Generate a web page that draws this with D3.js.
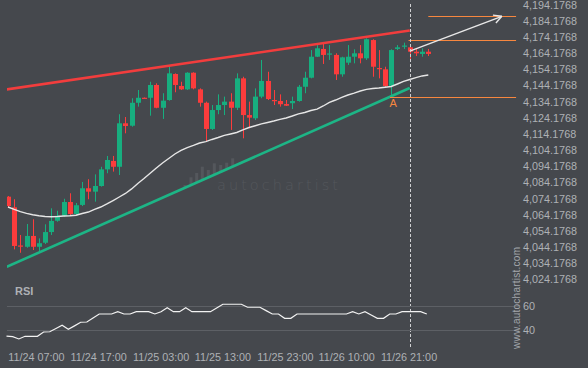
<!DOCTYPE html>
<html><head><meta charset="utf-8">
<script src="https://cdn.jsdelivr.net/npm/d3@7"></script>
<style>html,body{margin:0;padding:0;background:#45484d;overflow:hidden}</style>
</head><body><div id="chart"></div>
<script>
// ---- data ----
const candleOpen = [4075.4,4068.8,4045.2,4044.4,4051.1,4044.4,4046.9,4053.5,4060.5,4063.6,
4072.1,4064.7,4070.3,4080.6,4078.5,4082.0,4092.3,4097.5,4093.9,4120.8,
4119.3,4133.5,4136.6,4136.6,4144.5,4130.4,4135.2,4151.3,4143.9,4141.8,
4152.1,4141.8,4133.5,4117.3,4129.0,4132.1,4134.2,4130.4,4148.6,4125.9,
4123.9,4137.3,4147.0,4135.2,4134.6,4132.7,4133.2,4134.6,4143.4,4149.0,
4162.0,4166.8,4163.4,4163.1,4151.1,4158.3,4162.0,4164.1,4161.0,4172.3,
4155.0,4154.2,4143.9,4166.8,4168.3,4167.8,4165.1,4163.7,4165.1];
const candleHigh = [4075.8,4073.8,4051.7,4058.5,4061.4,4049.6,4058.3,4068.2,4066.7,4074.1,
4077.5,4071.5,4084.5,4086.2,4089.2,4093.9,4100.6,4100.6,4126.4,4124.7,
4136.3,4141.4,4136.8,4146.5,4145.5,4139.4,4155.8,4151.7,4146.5,4152.4,
4152.4,4142.4,4134.2,4132.1,4138.7,4137.3,4139.4,4151.7,4149.6,4134.2,
4142.4,4160.0,4152.7,4141.4,4138.7,4135.2,4137.3,4144.5,4152.7,4166.1,
4169.2,4169.9,4169.2,4164.1,4162.0,4169.2,4166.6,4169.2,4173.4,4172.8,
4166.1,4155.8,4166.6,4169.2,4170.7,4168.2,4167.4,4167.2,4166.8];
const candleLow = [4068.4,4042.8,4040.7,4043.8,4042.4,4041.4,4046.1,4051.7,4059.9,4063.0,
4064.1,4064.1,4069.6,4073.8,4072.3,4081.6,4089.9,4090.9,4088.8,4114.6,
4118.7,4131.1,4136.0,4125.5,4130.1,4123.5,4134.8,4140.0,4141.4,4141.4,
4141.8,4131.1,4109.8,4116.7,4126.4,4125.9,4116.7,4129.0,4111.5,4117.7,
4122.8,4136.3,4135.2,4132.1,4131.1,4131.5,4129.6,4134.2,4139.4,4148.6,
4161.8,4157.5,4160.0,4147.6,4149.6,4156.9,4157.9,4157.9,4160.0,4149.6,
4148.6,4143.1,4138.3,4166.1,4166.8,4158.9,4162.4,4162.0,4162.4];
const candleClose = [4069.6,4044.9,4044.6,4051.1,4044.4,4046.6,4053.5,4060.4,4063.6,4072.1,
4064.7,4070.1,4080.6,4078.5,4082.0,4092.3,4098.1,4093.9,4120.8,4119.1,
4133.5,4136.6,4136.1,4144.5,4130.4,4134.8,4151.7,4144.5,4141.8,4152.1,
4142.4,4133.5,4117.3,4129.0,4132.1,4134.2,4130.4,4148.6,4125.9,4124.3,
4137.3,4147.0,4135.8,4134.8,4132.6,4131.7,4134.6,4143.4,4149.0,4162.0,
4167.2,4163.1,4164.0,4151.1,4161.6,4162.0,4164.1,4161.0,4172.8,4155.8,
4154.4,4143.9,4166.1,4167.8,4168.9,4165.1,4164.1,4165.1,4163.7];
const movingAvg = [4069.0,4067.5,4066.1,4065.1,4064.2,4063.6,4063.1,4063.0,4063.1,4063.4,
4063.6,4063.9,4065.0,4065.9,4067.5,4069.0,4070.9,4073.0,4075.2,4077.4,
4080.2,4083.6,4086.6,4089.9,4093.1,4096.2,4099.0,4101.8,4104.0,4105.8,
4107.1,4108.6,4109.5,4110.8,4112.0,4113.3,4114.2,4115.1,4116.7,4118.2,
4119.3,4120.4,4121.3,4122.2,4123.2,4124.1,4125.3,4126.6,4127.5,4128.7,
4129.6,4131.5,4133.7,4135.2,4136.8,4138.3,4139.5,4140.8,4141.8,4142.3,
4142.6,4143.1,4143.6,4145.1,4146.7,4147.9,4149.1,4150.1,4150.7];
const rsiValues = [35.2,34.7,32.8,35.0,35.0,35.0,38.6,38.8,41.5,44.2,
40.8,43.7,46.7,46.9,50.3,53.6,53.6,53.6,55.5,53.6,
53.6,55.5,55.5,55.5,53.6,55.5,58.8,55.5,55.5,58.8,
55.5,55.5,55.5,55.5,58.6,61.7,61.7,61.7,61.7,59.2,
59.2,59.2,56.4,53.6,53.6,50.0,50.0,53.6,53.6,53.6,
53.6,53.6,53.6,53.6,53.6,53.6,55.5,53.6,55.5,52.8,
50.0,50.0,53.6,53.6,55.5,55.5,55.5,55.5,53.6];
const yTickValues = [4024.1768,4034.1768,4044.1768,4054.1768,4064.1768,4074.1768,4084.1768,4094.1768,
4104.1768,4114.1768,4124.1768,4134.1768,4144.1768,4154.1768,4164.1768,4174.1768,4184.1768,4194.1768];
const rsiTickValues = [40, 60];
const xTickIndex = [4.5, 14.6, 24.7, 34.7, 44.8, 54.7, 64.8];
const xTickLabels = ["11/24 07:00","11/24 17:00","11/25 03:00","11/25 13:00","11/25 23:00","11/26 10:00","11/26 21:00"];
const resistanceLine = [[-0.2, 4141.8], [65, 4178.2]];
const supportLine = [[-0.2, 4032.0], [65, 4142.6]];
const levelPrices = [4187.0, 4172.2, 4137.1];
const levelStartIndex = [68, 64.8, 61.8];
const levelEndIndex = 82.2;
const forecastArrow = [[65, 4165.5], [79.9, 4187.0]];
const patternPoint = {label: "A", index: 62.3, price: 4133.2};
const currentIndex = 65;

// ---- drawing ----
const W = 588, H = 368;
const BG = "#45484d", TXT = "#aeb1b5", UP = "#17ae7f", DOWN = "#fc3c3c";
const ORANGE = "#f7873f", FONT = "'Liberation Sans', Arial, sans-serif";
const svg = d3.select("#chart").append("svg").attr("width", W).attr("height", H)
  .style("font-family", FONT);
svg.append("rect").attr("width", W).attr("height", H).attr("fill", BG);

const x = d3.scaleLinear().domain([0, 68]).range([8, 428.3]);
const y = d3.scaleLinear().domain([4034.1768, 4194.1768]).range([263.3, 4.7]);
const yR = d3.scaleLinear().domain([40, 60]).range([330.3, 306.3]);

svg.append("defs").append("clipPath").attr("id", "clipMain")
  .append("rect").attr("x", 7).attr("y", 0).attr("width", 513).attr("height", 285);
const main = svg.append("g").attr("clip-path", "url(#clipMain)");

// watermark
const wm = main.append("g").attr("fill", "#54575c");
const wmBars = [[185,185],[191,177.3],[196.7,173],[202.3,166.7],[208.3,170],[214.3,163.3],[220.7,165],[226.7,162.7],[232.7,158.3]];
wmBars.forEach(([bx, top]) => {
  const bottom = 187.5 - 0.4447 * (bx - 185);
  wm.append("rect").attr("x", bx - 1.5).attr("y", top).attr("width", 3).attr("height", Math.max(1, bottom - top));
});
wm.append("text").attr("x", 217).attr("y", 190).attr("font-size", 14.5)
  .attr("textLength", 121).attr("lengthAdjust", "spacing")
  .attr("font-family", "'DejaVu Sans', sans-serif").attr("font-weight", 300)
  .text("autochartist");

// candles
const idx = d3.range(candleOpen.length);
const cg = main.append("g");
idx.forEach(i => {
  const o = candleOpen[i], c = candleClose[i], hi = candleHigh[i], lo = candleLow[i];
  const col = c >= o ? UP : DOWN;
  const cx = Math.round(x(i)) + 0.5;
  cg.append("line").attr("x1", cx).attr("x2", cx).attr("y1", y(hi)).attr("y2", y(lo))
    .attr("stroke", col).attr("stroke-width", 1);
  const top = y(Math.max(o, c)), bot = y(Math.min(o, c));
  cg.append("rect").attr("x", cx - 2.5).attr("y", top).attr("width", 5)
    .attr("height", Math.max(1.2, bot - top)).attr("fill", col);
});

// trend lines
const tl = d3.line().x(d => x(d[0])).y(d => y(d[1]));
main.append("path").attr("d", tl(resistanceLine)).attr("stroke", "#f23d3d").attr("stroke-width", 2.6).attr("fill", "none");
main.append("path").attr("d", tl(supportLine)).attr("stroke", "#1db586").attr("stroke-width", 2.6).attr("fill", "none");

// moving average
const maLine = d3.line().x((d, i) => x(i)).y(d => y(d));
main.append("path").attr("d", maLine(movingAvg)).attr("stroke", "#e6e6e6").attr("stroke-width", 1.4).attr("fill", "none");

// levels
levelPrices.forEach((p, k) => {
  svg.append("line").attr("x1", x(levelStartIndex[k])).attr("x2", x(levelEndIndex))
    .attr("y1", Math.round(y(p)) + 0.5).attr("y2", Math.round(y(p)) + 0.5)
    .attr("stroke", ORANGE).attr("stroke-width", 1.2);
});

// forecast arrow
const a0 = [x(forecastArrow[0][0]), y(forecastArrow[0][1])];
const a1 = [x(forecastArrow[1][0]), y(forecastArrow[1][1])];
svg.append("line").attr("x1", a0[0]).attr("y1", a0[1]).attr("x2", a1[0]).attr("y2", a1[1])
  .attr("stroke", "#e8e8e8").attr("stroke-width", 1.4);
const ang = Math.atan2(a1[1] - a0[1], a1[0] - a0[0]);
[-0.49, 0.49].forEach(da => {
  const b = ang + Math.PI + da;
  svg.append("line").attr("x1", a1[0]).attr("y1", a1[1])
    .attr("x2", a1[0] + 9 * Math.cos(b)).attr("y2", a1[1] + 9 * Math.sin(b))
    .attr("stroke", "#e8e8e8").attr("stroke-width", 1.4);
});

// pattern point label
svg.append("text").attr("x", x(patternPoint.index)).attr("y", y(patternPoint.price) + 4)
  .attr("text-anchor", "middle").attr("font-size", 11).attr("fill", ORANGE).text(patternPoint.label);

// current-time dashed line
svg.append("line").attr("x1", Math.round(x(currentIndex)) + 0.5).attr("x2", Math.round(x(currentIndex)) + 0.5)
  .attr("y1", 4).attr("y2", 349).attr("stroke", "#cfd0d2").attr("stroke-width", 1).attr("stroke-dasharray", "3,2");

// price axis
const yAxis = d3.axisRight(y).tickValues(yTickValues).tickFormat(d3.format(",.4f")).tickSize(0).tickPadding(0);
const gy = svg.append("g").attr("transform", "translate(523,0)").call(yAxis);
gy.select(".domain").remove();
gy.selectAll("text").attr("fill", TXT).attr("font-size", 10.8).attr("font-family", FONT);

// RSI panel
rsiTickValues.forEach(v => {
  svg.append("line").attr("x1", 7).attr("x2", 519).attr("y1", Math.round(yR(v)) + 0.5).attr("y2", Math.round(yR(v)) + 0.5)
    .attr("stroke", "#5d6065").attr("stroke-width", 1);
});
const rAxis = d3.axisRight(yR).tickValues(rsiTickValues).tickFormat(d3.format("d")).tickSize(0).tickPadding(0);
const gr = svg.append("g").attr("transform", "translate(523,0)").call(rAxis);
gr.select(".domain").remove();
gr.selectAll("text").attr("fill", TXT).attr("font-size", 10.8).attr("font-family", FONT);
const rsiLine = d3.line().x((d, i) => x(i) - 1.5).y(d => yR(d));
svg.append("path").attr("d", rsiLine(rsiValues)).attr("stroke", "#f2f2f2").attr("stroke-width", 1.2).attr("fill", "none");
svg.append("text").attr("x", 15).attr("y", 295).attr("font-size", 11).attr("font-weight", "bold")
  .attr("fill", TXT).text("RSI");

// time axis
const xAxis = d3.axisBottom(x).tickValues(xTickIndex).tickFormat((d, i) => xTickLabels[i]).tickSize(0).tickPadding(3);
const gx = svg.append("g").attr("transform", "translate(0,350)").call(xAxis);
gx.select(".domain").remove();
gx.selectAll("text").attr("fill", TXT).attr("font-size", 10.8).attr("font-family", FONT);

// vertical site text
svg.append("text").attr("transform", "translate(519.5,349) rotate(-90)")
  .attr("font-size", 10).attr("fill", "#a3a6ab").attr("textLength", 102).attr("lengthAdjust", "spacing")
  .text("www.autochartist.com");
</script>
</body></html>
